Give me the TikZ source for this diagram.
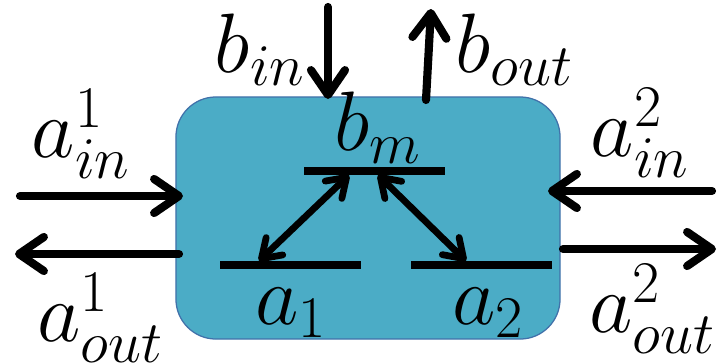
\RequirePackage{fix-cm}
\documentclass[tikz,border=0pt]{standalone}
\usepackage{amsmath}
\usepackage{tikz}
\usetikzlibrary{arrows.meta, positioning, calc}
\definecolor{cellfill}{RGB}{75,172,198}
\definecolor{celledge}{RGB}{65,113,170}
\tikzset{
  cell/.style={rectangle, draw=celledge, fill=cellfill, line width=0.9pt,
    rounded corners=1cm, minimum width=9.6cm, minimum height=6.05cm},
  level/.style={line width=5.8pt, color=black},
  flow/.style={-{Straight Barb[length=0.62cm, width=0.85cm, round]}, line width=5.8pt, line cap=round, color=black},
  swap/.style={{Straight Barb[length=0.45cm, width=0.6cm, round]}-{Straight Barb[length=0.45cm, width=0.6cm, round]}, line width=4.8pt, color=black},
  lbl/.style={inner sep=0pt, font=\fontsize{60}{68}\selectfont}
}

\begin{document}
\begin{tikzpicture}[x=0.025cm, y=-0.025cm]
  \useasboundingbox (0,0) rectangle (719,363);
  % the cell
  \node [cell] (cell) at (368,218) {};
  % levels
  \coordinate (bmL) at (304,171);
  \coordinate (bmR) at (445,171);
  \coordinate (aoneL) at (220,265);
  \coordinate (aoneR) at (361,265);
  \coordinate (atwoL) at (411,265);
  \coordinate (atwoR) at (552,265);
  \draw [level] (bmL) -- (bmR);
  \draw [level] (aoneL) -- (aoneR);
  \draw [level] (atwoL) -- (atwoR);
  \node [lbl] (bm) at (378,128) {$b_m$};
  \node [lbl] (aone) at (291,313) {$a_1$};
  \node [lbl] (atwo) at (488,313) {$a_2$};
  % exchange between levels
  \coordinate (pa) at (259,261);
  \coordinate (pb) at (349,175);
  \coordinate (pc) at (378,175);
  \coordinate (pd) at (466,261);
  \draw [swap] (pa) -- (pb);
  \draw [swap] (pc) -- (pd);
  % ports
  \coordinate (binS) at (328,7);
  \coordinate (binE) at (328,99);
  \coordinate (boutS) at (426,100);
  \coordinate (boutE) at (431,9);
  \draw [flow] (binS) -- (binE);
  \draw [flow] (boutS) -- (boutE);
  \coordinate (ainoS) at (20,196);
  \coordinate (ainoE) at (183,196);
  \coordinate (aoutoS) at (179,254);
  \coordinate (aoutoE) at (15,254);
  \draw [flow] (ainoS) -- (ainoE);
  \draw [flow] (aoutoS) -- (aoutoE);
  \coordinate (aintS) at (712,191);
  \coordinate (aintE) at (548,191);
  \coordinate (aouttS) at (563,249);
  \coordinate (aouttE) at (716,249);
  \draw [flow] (aintS) -- (aintE);
  \draw [flow] (aouttS) -- (aouttE);
  % port labels
  \node [lbl] (bin) at (260,50) {$b_{in}$};
  \node [lbl] (bout) at (514,50) {$b_{out}$};
  \node [lbl] (aino) at (81,134) {$a_{in}^1$};
  \node [lbl] (aint) at (640,133) {$a_{in}^2$};
  \node [lbl] (aouto) at (100,318) {$a_{out}^1$};
  \node [lbl] (aoutt) at (652,309) {$a_{out}^2$};
\end{tikzpicture}
\end{document}
